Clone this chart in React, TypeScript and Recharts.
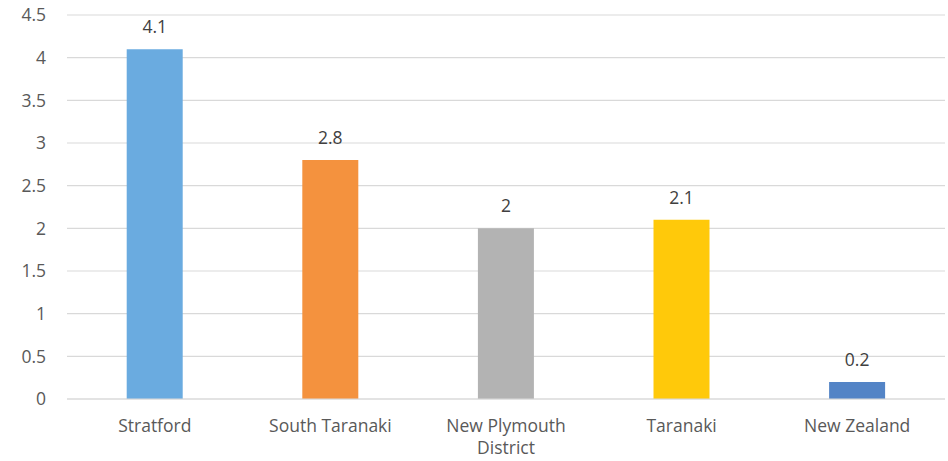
import React from 'react';
import { BarChart, Bar, XAxis, YAxis, CartesianGrid, Cell, LabelList } from 'recharts';

const categories = ['Stratford', 'South Taranaki', 'New Plymouth District', 'Taranaki', 'New Zealand'];
const values = [4.1, 2.8, 2, 2.1, 0.2];
const colors = ['#6AABE0', '#F4923E', '#B3B3B3', '#FFC90A', '#5384C6'];
const yTicks = [0, 0.5, 1, 1.5, 2, 2.5, 3, 3.5, 4, 4.5];

const data = categories.map((name, i) => ({ name, value: values[i] }));

const FONT = '"Open Sans", sans-serif';
const FS = 17.5;

const XTick = (props: any) => {
  const { x, y, payload } = props;
  const words = String(payload.value).split(' ');
  const lines: string[] = [];
  let cur = '';
  words.forEach((w) => {
    const t = cur ? cur + ' ' + w : w;
    if (t.length > 14 && cur) {
      lines.push(cur);
      cur = w;
    } else cur = t;
  });
  if (cur) lines.push(cur);
  return (
    <text x={x} y={y} textAnchor="middle" fill="#595959" fontSize={FS} fontFamily={FONT}>
      {lines.map((l, i) => (
        <tspan key={i} x={x} dy={i === 0 ? '0.71em' : 22}>
          {l}
        </tspan>
      ))}
    </text>
  );
};

export default function App() {
  return (
    <div style={{ position: 'absolute', left: 0, top: 0, background: '#fff' }}>
      <BarChart
        width={948}
        height={461}
        data={data}
        margin={{ top: 15, right: 3, left: 0, bottom: 32 }}
        barCategoryGap="34%"
      >
        <CartesianGrid vertical={false} stroke="#d9d9d9" strokeWidth={1.2} />
        <XAxis
          dataKey="name"
          axisLine={{ stroke: '#d9d9d9', strokeWidth: 1.2 }}
          tickLine={false}
          tickSize={0}
          tickMargin={21}
          interval={0}
          tick={<XTick />}
        />
        <YAxis
          width={67}
          domain={[0, 4.5]}
          ticks={yTicks}
          axisLine={false}
          tickLine={false}
          tickSize={0}
          tickMargin={21}
          tick={{ fill: '#595959', fontSize: FS, fontFamily: FONT }}
        />
        <Bar dataKey="value" isAnimationActive={false}>
          {data.map((d, i) => (
            <Cell key={d.name} fill={colors[i]} />
          ))}
          <LabelList
            dataKey="value"
            position="top"
            offset={16}
            fill="#404040"
            fontSize={FS}
            fontFamily={FONT}
          />
        </Bar>
      </BarChart>
    </div>
  );
}
